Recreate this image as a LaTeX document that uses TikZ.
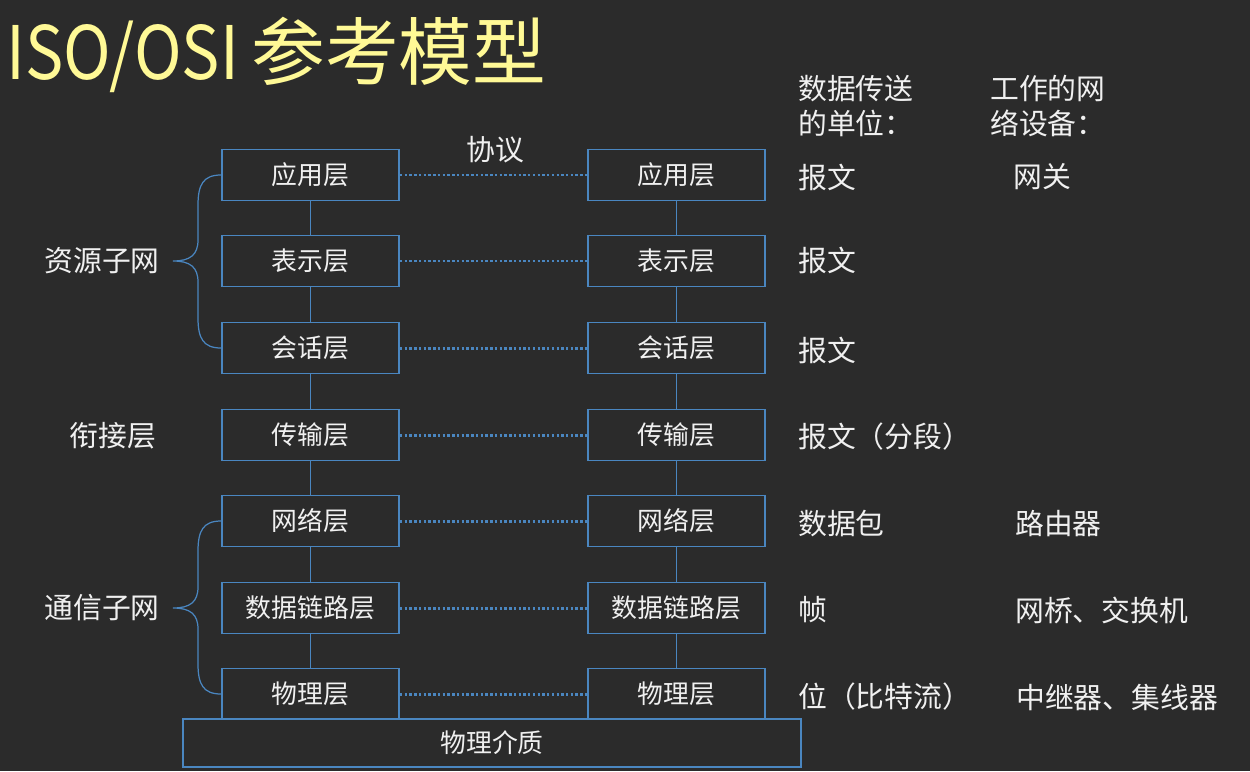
\documentclass[tikz,border=0pt]{standalone}
\usepackage{fontspec}
\setmainfont{Noto Sans CJK SC}
\usepackage{xcolor}
\usetikzlibrary{positioning}

\definecolor{board}{HTML}{2B2B2B}
\definecolor{layerblue}{HTML}{4A86C0}
\definecolor{chalk}{HTML}{F0F0F0}
\definecolor{titleyellow}{HTML}{FFF996}

\begin{document}
\begin{tikzpicture}[
    x=0.02cm, y=-0.02cm,
    layer/.style={draw=layerblue, line width=1.1pt, minimum width=3.54cm, minimum height=1.02cm,
        inner sep=0pt, text=chalk, font=\fontsize{14.7}{17}\selectfont},
    link/.style={draw=layerblue, line width=1.1pt},
    peer/.style={draw=layerblue, line width=1.7pt, dash pattern=on 1.4pt off 1.3pt},
    brace/.style={draw=layerblue, line width=0.7pt},
    side/.style={anchor=west, inner sep=0pt, text=chalk, font=\fontsize{16.4}{20.4}\selectfont},
    group/.style={inner sep=0pt, text=chalk, font=\fontsize{16.4}{20}\selectfont}
]
    % Board
    \fill[board] (0,0) rectangle (1250,771);
    \node[anchor=west, inner sep=0pt, text=titleyellow, font=\fontsize{42}{46}\selectfont] (title) at (6,55)
        {{\addfontfeature{FakeStretch=0.87}ISO/OSI}\hspace{7pt}参考模型};

    % Left stack
    \node[layer] (a1) at (310.5,175) {应用层};
    \node[layer] (a2) at (310.5,261) {表示层};
    \node[layer] (a3) at (310.5,348) {会话层};
    \node[layer] (a4) at (310.5,435) {传输层};
    \node[layer] (a5) at (310.5,521) {网络层};
    \node[layer] (a6) at (310.5,608) {数据链路层};
    \node[layer] (a7) at (310.5,694) {物理层};

    % Right stack
    \node[layer] (b1) at (676.5,175) {应用层};
    \node[layer] (b2) at (676.5,261) {表示层};
    \node[layer] (b3) at (676.5,348) {会话层};
    \node[layer] (b4) at (676.5,435) {传输层};
    \node[layer] (b5) at (676.5,521) {网络层};
    \node[layer] (b6) at (676.5,608) {数据链路层};
    \node[layer] (b7) at (676.5,694) {物理层};

    \node[layer, minimum width=12.36cm, minimum height=0.96cm] (medium) at (492,743) {物理介质};

    % Vertical links
    \draw[link] (a1) -- (a2) (a2) -- (a3) (a3) -- (a4) (a4) -- (a5) (a5) -- (a6) (a6) -- (a7);
    \draw[link] (b1) -- (b2) (b2) -- (b3) (b3) -- (b4) (b4) -- (b5) (b5) -- (b6) (b6) -- (b7);

    % Peer protocols
    \draw[peer] (a1) -- (b1);
    \draw[peer] (a2) -- (b2);
    \draw[peer] (a3) -- (b3);
    \draw[peer] (a4) -- (b4);
    \draw[peer] (a5) -- (b5);
    \draw[peer] (a6) -- (b6);
    \draw[peer] (a7) -- (b7);
    \node[group] (proto) at (495,150) {协议};

    % Groups on the left
    \coordinate (restip) at (173,261);
    \coordinate (comtip) at (173,608);
    \draw[brace] (a1.west) .. controls (203,175) and (198,185) .. (198,205) -- (198,240)
        .. controls (198,255) and (190,261) .. (restip)
        .. controls (190,261) and (198,267) .. (198,282) -- (198,318)
        .. controls (198,338) and (203,348) .. (a3.west);
    \draw[brace] (a5.west) .. controls (203,521) and (198,531) .. (198,551) -- (198,587)
        .. controls (198,602) and (190,608) .. (comtip)
        .. controls (190,608) and (198,614) .. (198,629) -- (198,664)
        .. controls (198,684) and (203,694) .. (a7.west);
    \node[group] (res) at (102,261) {资源子网};
    \node[group] (mid) at (113,436) {衔接层};
    \node[group] (com) at (102,608) {通信子网};

    % Units and devices
    \node[side, align=left] (unithead) at (798,106) {数据传送\\的单位：};
    \node[side, align=left] (devhead) at (990,106) {工作的网\\络设备：};
    \node[side] (u1) at (798,177) {报文};
    \node[side] (u2) at (798,260) {报文};
    \node[side] (u3) at (798,350) {报文};
    \node[side] (u4) at (798,437) {报文（分段）};
    \node[side] (u5) at (798,524) {数据包};
    \node[side] (u6) at (798,610) {帧};
    \node[side] (u7) at (798,697) {位（比特流）};
    \node[side] (d1) at (1013,177) {网关};
    \node[side] (d5) at (1015,524) {路由器};
    \node[side] (d6) at (1015,610) {网桥、交换机};
    \node[side] (d7) at (1016,697) {中继器、集线器};
\end{tikzpicture}
\end{document}
